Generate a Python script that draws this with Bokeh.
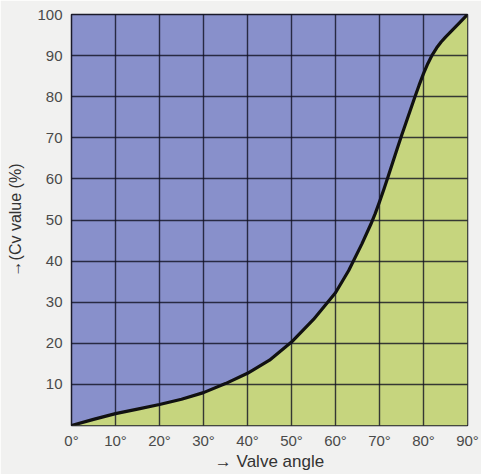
from bokeh.plotting import figure
from bokeh.models import Range1d, FixedTicker, ColumnDataSource
from bokeh.embed import file_html
from bokeh.resources import INLINE

# Data
angle = [0, 5, 10, 15, 20, 25, 30, 35, 40, 45, 50, 55, 60, 63, 66, 68, 69, 70, 71, 72, 73, 74, 75,
         76, 77, 78, 79, 80, 81, 82, 83, 84, 85, 86, 88, 90]
cv = [0, 1.5, 2.9, 4.0, 5.1, 6.4, 8.0, 10.2, 12.7, 15.9, 20.3, 25.8, 32.3, 37.7, 44.2, 48.9, 51.5, 54.4, 57.5, 60.7, 64.0, 67.3, 70.5,
      73.6, 76.7, 79.8, 82.8, 85.6, 88.1, 90.2, 91.9, 93.3, 94.5, 95.6, 97.8, 100]

x_ticks = [0, 10, 20, 30, 40, 50, 60, 70, 80, 90]
x_tick_labels = ["0°", "10°", "20°", "30°", "40°", "50°", "60°", "70°", "80°", "90°"]
y_ticks = [10, 20, 30, 40, 50, 60, 70, 80, 90, 100]
y_tick_labels = ["10", "20", "30", "40", "50", "60", "70", "80", "90", "100"]
x_title = "→ Valve angle"
y_title = "→(Cv value (%)"

src = ColumnDataSource(dict(angle=angle, cv=cv, zero=[0] * len(angle)))

p = figure(width=481, height=474, output_backend="svg", toolbar_location=None,
           x_range=Range1d(0, 90), y_range=Range1d(0, 100),
           min_border_left=71, min_border_right=14, min_border_top=14, min_border_bottom=49)

p.background_fill_color = "#8890cb"
p.border_fill_color = "#f1f1f0"
p.outline_line_color = "#1a1a2a"
p.outline_line_width = 1.5

p.varea(x="angle", y1="zero", y2="cv", source=src, fill_color="#c6d57e")
p.line(x="angle", y="cv", source=src, line_color="#111111", line_width=3.2,
       line_join="round", line_cap="round")

p.xaxis.ticker = FixedTicker(ticks=x_ticks)
p.yaxis.ticker = FixedTicker(ticks=y_ticks)
p.xaxis.major_label_overrides = {t: l for t, l in zip(x_ticks, x_tick_labels)}
p.yaxis.major_label_overrides = {t: l for t, l in zip(y_ticks, y_tick_labels)}

for ax in (p.xaxis[0], p.yaxis[0]):
    ax.axis_line_color = None
    ax.major_tick_line_color = None
    ax.minor_tick_line_color = None
    ax.major_label_text_font = "Liberation Sans"
    ax.major_label_text_font_size = "15px"
    ax.major_label_text_color = "#4a4a4a"
    ax.axis_label_text_font = "Liberation Sans"
    ax.axis_label_text_font_style = "normal"
    ax.axis_label_text_color = "#333333"

p.xaxis.major_label_standoff = 0
p.yaxis.major_label_standoff = 3
p.xaxis.axis_label = x_title
p.xaxis.axis_label_text_font_size = "17px"
p.xaxis.axis_label_standoff = 0
p.yaxis.axis_label = y_title
p.yaxis.axis_label_text_font_size = "16px"
p.yaxis.axis_label_standoff = 10

p.xgrid.ticker = FixedTicker(ticks=x_ticks)
p.ygrid.ticker = FixedTicker(ticks=[0] + y_ticks)
for g in (p.xgrid[0], p.ygrid[0]):
    g.grid_line_color = "#101020"
    g.grid_line_alpha = 0.8
    g.grid_line_width = 1.4
    g.level = "guide"

open("out.html", "w").write(file_html(p, INLINE))
